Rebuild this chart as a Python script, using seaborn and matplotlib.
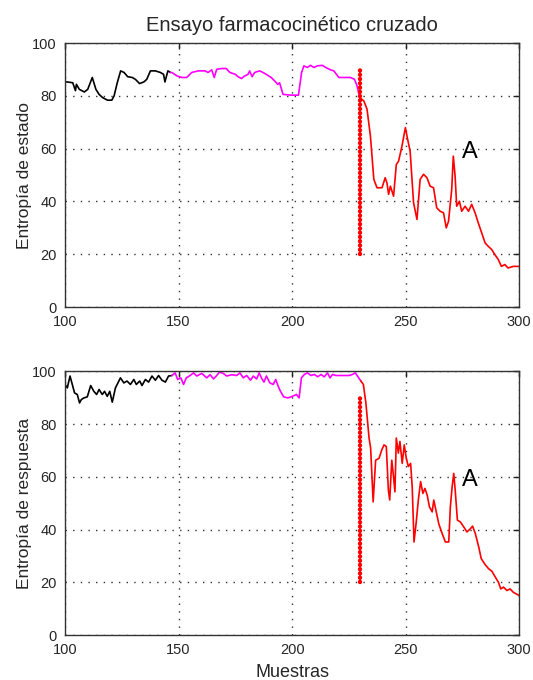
import numpy as np
import pandas as pd
import matplotlib
matplotlib.use("Agg")
import matplotlib.pyplot as plt
import seaborn as sns

# --- panel 1: entropia de estado ---
est_x_pre = [100, 101, 103.4, 104.6, 105, 106.3, 108.5, 110, 112, 113.6, 115, 116.5, 118.7, 120.6,
             121.6, 123, 124.5, 126, 127.6, 129.6, 131, 132.8, 134.7, 136, 137.6, 139.8, 142, 143.4,
             144, 145.3, 146.4]
est_y_pre = [85.3, 85.3, 85, 82, 84.4, 82.5, 81.5, 82.5, 87, 82.5, 80.6, 79.4, 78.4, 78.4,
             80, 85, 89.5, 88.9, 87.3, 87, 86.3, 84.7, 85.3, 86.3, 89.5, 89.5, 88.9, 88.2,
             85.3, 89.5, 88.9]
est_x_mid = [146.4, 147, 149.3, 151.5, 153.6, 155.8, 158.7, 161.7, 163, 164.6, 165.7, 166.8, 169,
             171, 172.6, 175, 176.2, 177.7, 179, 180.6, 181.3, 182.4, 183.5, 185.7, 187.2, 188.6,
             190.8, 192.3, 193.7, 194.5, 196, 199.6, 202.8, 204.2, 205.2, 206.7, 208.1, 209.6,
             211.1, 213.3, 214.8, 216.9, 218.4, 220.6, 225.7, 227.5, 228.6, 229.8]
est_y_mid = [88.9, 88.9, 87.6, 87, 87, 88.9, 89.5, 89.5, 88.9, 89.9, 87, 90.1, 90.4,
             90.4, 88.9, 88.2, 87.3, 86.6, 87.5, 88.2, 89.5, 87.3, 88.9, 89.5, 88.9, 88.2,
             87, 85.7, 84.4, 85, 80.6, 80.3, 80.3, 88.9, 91.4, 90.8, 91.6, 90.8,
             91.4, 91.6, 90.8, 89.9, 89.5, 87, 87, 86.3, 83.8, 79.4]
est_x_post = [229.8, 231.6, 233, 234.5, 236, 237.4, 239.6, 241, 241.8, 242.5, 243.3, 244.7, 245.9,
              246.9, 248.4, 249.9, 250.9, 252, 253.5, 255, 256.4, 257.9, 259.4, 260.8, 262.3,
              263.7, 265.2, 266.7, 267.9, 268.9, 270.3, 271, 271.8, 272.5, 273.7, 274.7, 276.2,
              277.7, 279.1, 280.6, 282, 283.5, 285, 286.4, 287.9, 289.3, 290.8, 292.2, 293.7,
              295.1, 297.4, 300]
est_y_post = [79.4, 78.1, 75, 64.8, 48.4, 45.2, 45.2, 49, 47, 42.7, 45.8, 42, 54,
              55.3, 61, 68, 63.5, 59, 39.5, 33.2, 48.4, 50.3, 49, 45.8, 45.2,
              37.6, 36.3, 35.7, 30, 32.5, 44.5, 57.2, 49.6, 38.2, 40.1, 36.3, 38.2,
              36.3, 38.9, 35.7, 31.9, 28.1, 24.3, 23, 21.8, 19.9, 18, 15.4, 16.1,
              14.8, 15.4, 15.4]

# --- panel 2: entropia de respuesta ---
resp_x_pre = [100, 101, 102.2, 103.2, 104.2, 105.4, 106.4, 107.2, 108.3, 109.8, 111.3, 112.7, 113.9,
              115, 116.4, 117.4, 118.6, 119.7, 120.8, 122.2, 124.4, 125.9, 127.3, 128.8, 130.3,
              131.4, 132.9, 133.9, 135.4, 136.8, 138.3, 139.8, 141.2, 142.7, 144.2, 145.6, 147.1]
resp_y_pre = [95, 93.7, 98.2, 95, 91.8, 91.2, 88, 89.3, 89.9, 90.3, 94.6, 92.4, 91.2,
              93.1, 91.2, 92.4, 90.5, 92.4, 88.3, 93.7, 97.5, 95.6, 96.3, 95, 96.9,
              95, 96.3, 94.6, 96.9, 95.9, 98.2, 96.6, 98.4, 96.6, 95.9, 98.2, 98.4]
resp_x_mid = [147.1, 148.5, 149.6, 151, 152.2, 153.4, 155.1, 156.6, 158, 160.2, 162.4, 163.9, 165.4,
              166.8, 168, 169.7, 171.2, 173.4, 175.6, 177, 178.5, 180, 181.7, 182.9, 184.4, 185.5,
              186.5, 187.6, 188.7, 190.2, 191.7, 192.8, 193.9, 194.9, 196.3, 198.2, 200.1, 201.9,
              203.1, 204.1, 205.4, 206.8, 208.3, 209.8, 211.3, 212.7, 214.2, 215.6, 216.7, 217.8,
              219.3, 221.5, 225.1, 226.6, 227.8, 228.8, 230.3]
resp_y_mid = [98.4, 99.4, 96.9, 97.5, 95, 97.5, 98.4, 99.4, 98.2, 99.2, 97.5, 98.7, 97.1,
              98.4, 99.7, 99.2, 98.2, 98.7, 98.4, 99.4, 97.5, 98.4, 96.6, 98.2, 97.1, 99.4,
              97.5, 95.9, 98.2, 95.6, 95, 96.9, 94.3, 92.4, 90.3, 89.9, 90.5, 91.2,
              89.9, 97.5, 98.8, 99.4, 98.4, 98.8, 97.9, 98.8, 97.9, 99.4, 97.5, 98.8,
              98.4, 98.4, 98.4, 98.8, 99.4, 98.2, 96.3]
resp_x_post = [230.3, 231.4, 232.5, 233.9, 234.6, 235.7, 236.8, 238.3, 239.5, 240.5, 241.5, 242.4,
               243, 243.9, 244.6, 245.3, 245.9, 246.8, 247.5, 248.5, 249.4, 250.3, 251.2, 252.2,
               252.9, 253.7, 254.7, 255.6, 256.6, 257.6, 258.5, 259.5, 260.5, 261.7, 262.4, 263.5,
               264.6, 266.1, 267.5, 269, 269.7, 270.5, 271.2, 271.9, 272.8, 274.1, 275.6, 277,
               278.5, 279.5, 280.7, 282.2, 283.3, 284.8, 286.5, 288, 289.5, 290.9, 291.9, 293.1,
               294.6, 296, 297.5, 299, 300]
resp_y_post = [96.3, 95, 88, 74.7, 70.9, 50.5, 66.3, 67, 70.2, 72.1, 71.5, 55,
               51.2, 66.3, 60.7, 54.3, 74.7, 69, 73.4, 65.1, 72.1, 67, 63.9, 65.1,
               56.3, 35.3, 43, 51.2, 58.2, 53.7, 55.6, 53.1, 48.6, 46.7, 51.2, 46.7,
               42.2, 38.5, 35.3, 35.3, 48.6, 56.3, 61.3, 54.3, 43.6, 42.9, 41, 39.1,
               40.3, 41.3, 38.5, 33.4, 29, 27, 25.2, 24.2, 22, 20, 17.5, 18.2,
               16.9, 17.5, 16.2, 15.5, 15]

marker_x = 230
marker_y = (20, 90)
label_pos = (275, 56.5)
xticks = [100, 150, 200, 250, 300]
yticks = [0, 20, 40, 60, 80, 100]
seg_colors = {"pre": "black", "mid": "#ff00ff", "post": "red"}


def build(xs, ys):
    parts = []
    for fase, x, y in zip(["pre", "mid", "post"], xs, ys):
        parts.append(pd.DataFrame({"muestra": x, "entropia": y, "fase": fase}))
    return pd.concat(parts, ignore_index=True)


df_est = build([est_x_pre, est_x_mid, est_x_post], [est_y_pre, est_y_mid, est_y_post])
df_resp = build([resp_x_pre, resp_x_mid, resp_x_post], [resp_y_pre, resp_y_mid, resp_y_post])

sns.set_style("white")
plt.rcParams["font.family"] = ["Liberation Sans", "DejaVu Sans"]

fig = plt.figure(figsize=(5.33, 6.8), dpi=100)
ax1 = fig.add_axes([0.122, 0.5485, 0.852, 0.388])
ax2 = fig.add_axes([0.122, 0.066, 0.852, 0.388])

for ax, df, ylab in [(ax1, df_est, "Entropía de estado"), (ax2, df_resp, "Entropía de respuesta")]:
    sns.lineplot(data=df, x="muestra", y="entropia", hue="fase", palette=seg_colors,
                 sort=False, estimator=None, lw=1.2, legend=False, ax=ax)
    ax.plot([marker_x, marker_x], list(marker_y), color="red", lw=3.2,
            linestyle=(0, (0.01, 0.95)), dash_capstyle="round", zorder=3)
    ax.text(label_pos[0], label_pos[1], "A", fontsize=17, color="black")
    ax.set_xlim(100, 300)
    ax.set_ylim(0, 100)
    ax.set_xticks(xticks)
    ax.set_yticks(yticks)
    ax.grid(True, color="#333333", linestyle=(0, (1, 4.5)), lw=1)
    ax.tick_params(direction="in", length=4, width=1, top=True, right=True,
                   labelsize=10.5, color="#222222", pad=6)
    for s in ax.spines.values():
        s.set_color("#333333")
        s.set_linewidth(1)
    ax.set_ylabel(ylab, fontsize=12.5, labelpad=0)
    ax.set_xlabel("")

ax1.set_title("Ensayo farmacocinético cruzado", fontsize=14.5, pad=9)
ax2.set_xlabel("Muestras", fontsize=13, labelpad=5)

fig.savefig("out.png", dpi=100)
